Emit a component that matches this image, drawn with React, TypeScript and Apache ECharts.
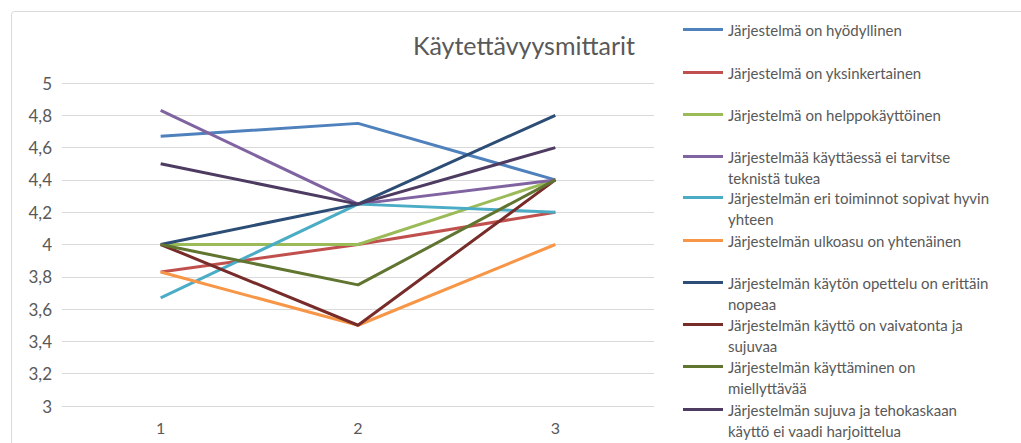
import React, { useEffect, useRef } from "react";
import * as echarts from "echarts";

const categories = ["1", "2", "3"];

const legendLabels = [
  "Järjestelmä on hyödyllinen",
  "Järjestelmä on yksinkertainen",
  "Järjestelmä on helppokäyttöinen",
  "Järjestelmää käyttäessä ei tarvitse\nteknistä tukea",
  "Järjestelmän eri toiminnot sopivat hyvin\nyhteen",
  "Järjestelmän ulkoasu on yhtenäinen",
  "Järjestelmän käytön opettelu on erittäin\nnopeaa",
  "Järjestelmän käyttö on vaivatonta ja\nsujuvaa",
  "Järjestelmän käyttäminen on\nmiellyttävää",
  "Järjestelmän sujuva ja tehokaskaan\nkäyttö ei vaadi harjoittelua",
];

const hyodyllinen = [4.67, 4.75, 4.4];
const yksinkertainen = [3.83, 4.0, 4.2];
const helppokayttoinen = [4.0, 4.0, 4.4];
const teknistaTukea = [4.83, 4.25, 4.4];
const sopivatYhteen = [3.67, 4.25, 4.2];
const ulkoasu = [3.83, 3.5, 4.0];
const opettelu = [4.0, 4.25, 4.8];
const vaivatonta = [4.0, 3.5, 4.4];
const miellyttava = [4.0, 3.75, 4.4];
const harjoittelu = [4.5, 4.25, 4.6];

const seriesValues = [
  hyodyllinen,
  yksinkertainen,
  helppokayttoinen,
  teknistaTukea,
  sopivatYhteen,
  ulkoasu,
  opettelu,
  vaivatonta,
  miellyttava,
  harjoittelu,
];

const colors = [
  "#4F81BD",
  "#C0504D",
  "#9BBB59",
  "#8064A2",
  "#4BACC6",
  "#F79646",
  "#2C4D75",
  "#772C2A",
  "#5F7530",
  "#4D3B62",
];

const legendRowY = [30, 73, 115, 157, 198, 241, 283, 325, 367, 410];

const FONT = "Lato, 'Open Sans', sans-serif";
const TEXT_COLOR = "#595959";

const ICON_ONE = "path://M0,0h40v3h-40z";
const ICON_TWO = "path://M0,0h40v3h-40z M0,23.99h0.01v0.01h-0.01z";

export default function App() {
  const ref = useRef<HTMLDivElement>(null);

  useEffect(() => {
    if (!ref.current) return;
    const chart = echarts.init(ref.current, undefined, { renderer: "svg" });
    const names = legendLabels.map((l) => l.replace("\n", " "));

    const legends = names.map((name, i) => {
      const twoLines = legendLabels[i].includes("\n");
      return {
        show: true,
        orient: "vertical" as const,
        left: 683,
        top: legendRowY[i] - 11,
        padding: 0,
        itemWidth: 40,
        itemHeight: twoLines ? 24 : 3,
        icon: twoLines ? ICON_TWO : ICON_ONE,
        itemStyle: { borderWidth: 0 },
        data: [name],
        selectedMode: false,
        formatter: () => legendLabels[i],
        textStyle: {
          fontFamily: FONT,
          fontSize: 15,
          color: TEXT_COLOR,
          lineHeight: 21,
        },
      };
    });

    chart.setOption({
      animation: false,
      backgroundColor: "#ffffff",
      title: {
        text: "Käytettävyysmittarit",
        left: 519,
        top: 27,
        textAlign: "center",
        textStyle: {
          fontFamily: FONT,
          fontSize: 25,
          fontWeight: "normal",
          color: TEXT_COLOR,
        },
      },
      graphic: [
        {
          type: "rect",
          shape: { x: 11.5, y: 11.5, width: 1200, height: 600, r: 3 },
          style: { fill: "none", stroke: "#D9D9D9", lineWidth: 1 },
          silent: true,
          z: -1,
        },
      ],
      legend: legends,
      grid: { left: 62, right: 367, top: 83, bottom: 37 },
      xAxis: {
        type: "category",
        data: categories,
        boundaryGap: true,
        axisLine: { show: true, lineStyle: { color: "#D9D9D9", width: 1 } },
        axisTick: { show: false },
        axisLabel: {
          margin: 13,
          fontFamily: FONT,
          fontSize: 16,
          color: TEXT_COLOR,
        },
      },
      yAxis: {
        type: "value",
        min: 3,
        max: 5,
        interval: 0.2,
        axisLine: { show: false },
        axisTick: { show: false },
        splitLine: { lineStyle: { color: "#D9D9D9", width: 1 } },
        axisLabel: {
          margin: 10,
          fontFamily: FONT,
          fontSize: 17,
          color: TEXT_COLOR,
          formatter: (v: number) => String(Number(v.toFixed(1))).replace(".", ","),
        },
      },
      series: seriesValues.map((vals, i) => ({
        name: names[i],
        type: "line",
        data: vals,
        symbol: "none",
        showSymbol: false,
        color: colors[i],
        lineStyle: { color: colors[i], width: 3 },
        emphasis: { disabled: true },
      })),
    });

    return () => chart.dispose();
  }, []);

  return (
    <div
      ref={ref}
      style={{ position: "fixed", left: 0, top: 0, width: 1021, height: 443 }}
    />
  );
}
